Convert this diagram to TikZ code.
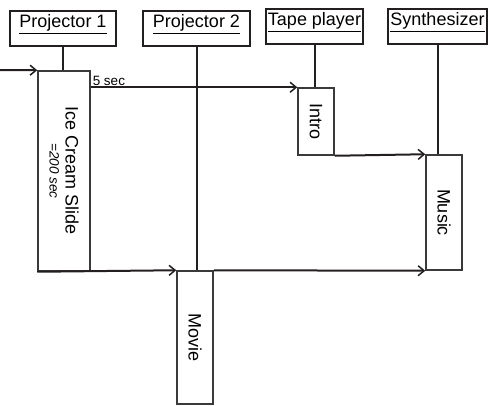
\documentclass[tikz,border=0pt]{standalone}
\usepackage{fontspec}
\setmainfont{Liberation Sans}
\usetikzlibrary{arrows.meta, positioning}
\definecolor{cline}{HTML}{231F20}
\definecolor{cbox}{HTML}{3A3A3A}
\tikzset{
  every picture/.style={line width=2pt, draw=cline},
  head/.style={draw=cline, minimum width=#1, minimum height=35pt, inner xsep=2pt, inner ysep=3.5pt,
    text height=13.5pt, text depth=14pt, font=\fontsize{18}{20}\selectfont},
  act/.style={draw=cbox, line width=1.5pt, fill=white, minimum width=36pt, inner sep=0pt},
  life/.style={draw=cline, line width=2pt},
  msg/.style={-{Straight Barb[length=6pt, width=10pt, line width=1.5pt]}, draw=cline, line width=2pt},
  turned/.style={rotate=-90, align=center, font=\fontsize{18}{20}\selectfont},
}

\begin{document}
\begin{tikzpicture}[x=1pt, y=-1pt]
  \useasboundingbox (0,0) rectangle (488,405);
  % objects along the top
  \foreach \n/\t/\x/\y/\w in {p1/Projector 1/63/28/106, p2/Projector 2/196.5/28/107,
                              tp/Tape player/314.5/26/97, syn/Synthesizer/437.5/26/99}
    \node[head=\w pt] (\n) at (\x, \y) {\underline{\t}};
  % activations
  \node[act, minimum width=52pt, minimum height=200pt] (ice) at (64, 171) {};
  \node[act, minimum height=67pt] (intro) at (316, 121.5) {};
  \node[act, minimum height=115pt] (music) at (444, 212.5) {};
  \node[act, minimum height=133pt] (movie) at (195, 337.5) {};
  % life lines
  \foreach \h/\b in {p1/ice, p2/movie, tp/intro, syn/music}
    \draw[life] (\h.south) -- (\h.south |- \b.north);
  % labels
  \node[turned] (icelbl) at (ice.center) {Ice Cream Slide\\[-4pt]{\fontsize{13.5}{15}\selectfont\itshape =200 sec}};
  \node[turned] (introlbl) at (intro.center) {Intro};
  \node[turned] (musiclbl) at (music.center) {Music};
  \node[turned] (movielbl) at (movie.center) {Movie};
  % messages
  \coordinate (start) at (0, 70);
  \draw[msg] (start) -- (ice.north west);
  \draw[msg] (ice.east |- intro.north west) -- node[pos=0, anchor=south west, inner sep=1pt,
    font=\fontsize{13.5}{15}\selectfont] (fivesec) {5 sec} (intro.north west);
  \draw[msg] (intro.south east) -- (music.north west);
  \draw[msg] (ice.south west) -- (movie.north west);
  \draw[msg] (movie.north east) -- (music.south west);
\end{tikzpicture}
\end{document}
